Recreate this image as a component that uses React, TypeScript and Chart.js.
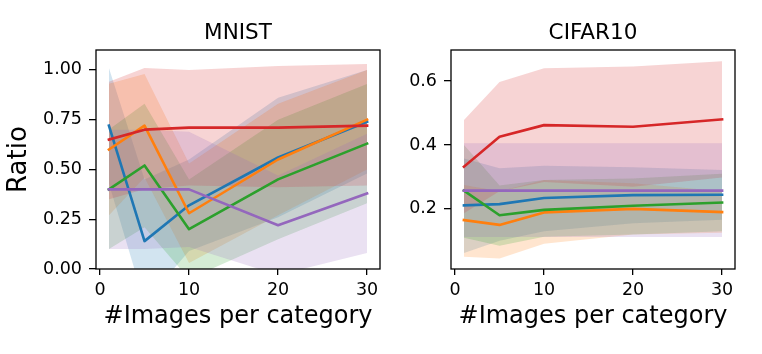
import React, { useEffect, useRef } from "react";
import { Chart, registerables } from "chart.js";

Chart.register(...registerables);

// ---------- data ----------
const imagesPerCategory = [1, 5, 10, 20, 30];
const xTickValues = [0, 10, 20, 30];
const mnistYTickValues = [0, 0.25, 0.5, 0.75, 1.0];
const cifarYTickValues = [0.2, 0.4, 0.6];

const seriesColors = ["#1f77b4", "#ff7f0e", "#2ca02c", "#d62728", "#9467bd"];
const seriesFills = [
  "rgba(31,119,180,0.2)",
  "rgba(255,127,14,0.2)",
  "rgba(44,160,44,0.2)",
  "rgba(214,39,40,0.2)",
  "rgba(148,103,189,0.2)",
];

// MNIST
const mnistBlue = [0.72, 0.14, 0.32, 0.56, 0.74];
const mnistBlueLow = [0.43, -0.17, 0.09, 0.26, 0.48];
const mnistBlueHigh = [1.01, 0.45, 0.55, 0.86, 1.0];
const mnistOrange = [0.6, 0.72, 0.28, 0.55, 0.75];
const mnistOrangeLow = [0.27, 0.46, 0.03, 0.27, 0.5];
const mnistOrangeHigh = [0.93, 0.98, 0.53, 0.83, 1.0];
const mnistGreen = [0.4, 0.52, 0.2, 0.45, 0.63];
const mnistGreenLow = [0.1, 0.21, -0.05, 0.15, 0.33];
const mnistGreenHigh = [0.7, 0.83, 0.45, 0.75, 0.93];
const mnistRed = [0.65, 0.7, 0.71, 0.71, 0.72];
const mnistRedLow = [0.35, 0.4, 0.42, 0.41, 0.42];
const mnistRedHigh = [0.94, 1.01, 1.0, 1.02, 1.03];
const mnistPurple = [0.4, 0.4, 0.4, 0.22, 0.38];
const mnistPurpleLow = [0.1, 0.1, 0.11, -0.03, 0.08];
const mnistPurpleHigh = [0.7, 0.7, 0.69, 0.47, 0.68];

// CIFAR10
const cifarBlue = [0.211, 0.215, 0.234, 0.243, 0.244];
const cifarBlueLow = [0.062, 0.1, 0.13, 0.155, 0.166];
const cifarBlueHigh = [0.358, 0.327, 0.335, 0.33, 0.322];
const cifarOrange = [0.165, 0.15, 0.189, 0.2, 0.19];
const cifarOrangeLow = [0.05, 0.045, 0.091, 0.12, 0.125];
const cifarOrangeHigh = [0.275, 0.255, 0.29, 0.28, 0.255];
const cifarGreen = [0.257, 0.18, 0.197, 0.21, 0.22];
const cifarGreenLow = [0.11, 0.085, 0.113, 0.12, 0.13];
const cifarGreenHigh = [0.4, 0.273, 0.29, 0.295, 0.31];
const cifarRed = [0.332, 0.426, 0.462, 0.457, 0.48];
const cifarRedLow = [0.186, 0.255, 0.284, 0.269, 0.298];
const cifarRedHigh = [0.478, 0.597, 0.64, 0.645, 0.662];
const cifarPurple = [0.257, 0.257, 0.257, 0.257, 0.257];
const cifarPurpleLow = [0.112, 0.112, 0.112, 0.112, 0.112];
const cifarPurpleHigh = [0.405, 0.405, 0.405, 0.405, 0.405];

const FONT = "'DejaVu Sans', sans-serif";

function pts(values: number[]) {
  return imagesPerCategory.map((x, i) => ({ x, y: values[i] }));
}

function buildDatasets(means: number[][], lows: number[][], highs: number[][]) {
  const ds: any[] = [];
  for (let i = 0; i < means.length; i++) {
    ds.push({
      data: pts(highs[i]),
      fill: 2 * i + 1,
      backgroundColor: seriesFills[i],
      borderColor: "rgba(0,0,0,0)",
      borderWidth: 0,
      pointRadius: 0,
      order: 100 - i,
    });
    ds.push({
      data: pts(lows[i]),
      fill: false,
      backgroundColor: "rgba(0,0,0,0)",
      borderColor: "rgba(0,0,0,0)",
      borderWidth: 0,
      pointRadius: 0,
      order: 100 - i,
    });
  }
  for (let i = 0; i < means.length; i++) {
    ds.push({
      data: pts(means[i]),
      fill: false,
      borderColor: seriesColors[i],
      backgroundColor: seriesColors[i],
      borderWidth: 2.6,
      borderCapStyle: "square",
      borderJoinStyle: "round",
      pointRadius: 0,
      order: 50 - i,
    });
  }
  return ds;
}

function framePlugin(title: string) {
  return {
    id: "frame",
    afterDatasetsDraw(chart: any) {
      const { ctx, chartArea: a } = chart;
      ctx.save();
      ctx.strokeStyle = "#000";
      ctx.lineWidth = 1.3;
      ctx.strokeRect(a.left, a.top, a.right - a.left, a.bottom - a.top);
      ctx.restore();
    },
    afterDraw(chart: any) {
      const { ctx, chartArea: a } = chart;
      ctx.save();
      ctx.fillStyle = "#000";
      ctx.font = `21.5px ${FONT}`;
      ctx.textAlign = "center";
      ctx.textBaseline = "alphabetic";
      ctx.fillText(title, (a.left + a.right) / 2, 39);
      ctx.restore();
    },
  };
}

interface PanelProps {
  title: string;
  width: number;
  yAxisWidth: number;
  padRight: number;
  yMin: number;
  yMax: number;
  yTicks: number[];
  yDigits: number;
  yLabel?: string;
  means: number[][];
  lows: number[][];
  highs: number[][];
}

function Panel(p: PanelProps) {
  const ref = useRef<HTMLCanvasElement>(null);
  useEffect(() => {
    if (!ref.current) return;
    const chart = new Chart(ref.current, {
      type: "line",
      data: { datasets: buildDatasets(p.means, p.lows, p.highs) },
      options: {
        responsive: false,
        animation: false,
        devicePixelRatio: 1,
        layout: { padding: { top: 50, right: p.padRight, bottom: 0, left: 0 } },
        plugins: {
          legend: { display: false },
          tooltip: { enabled: false },
          title: { display: false },
          filler: { drawTime: "beforeDatasetsDraw", propagate: false },
        } as any,
        elements: { line: { tension: 0 }, point: { radius: 0 } },
        scales: {
          x: {
            type: "linear",
            min: -0.45,
            max: 31.45,
            afterBuildTicks: (axis: any) => {
              axis.ticks = xTickValues.map((value) => ({ value }));
            },
            afterFit: (axis: any) => {
              axis.height = 85;
            },
            ticks: {
              color: "#000",
              font: { family: FONT, size: 17.5 },
              padding: 4.5,
              maxRotation: 0,
              autoSkip: false,
              callback: (v: any) => String(v),
            },
            grid: {
              drawOnChartArea: false,
              drawTicks: true,
              tickLength: 6,
              color: "#000",
              lineWidth: 1.3,
            },
            border: { display: false },
            title: {
              display: true,
              text: "#Images per category",
              color: "#000",
              font: { family: FONT, size: 24 },
              padding: { top: 0, bottom: 22.9 },
            },
          },
          y: {
            type: "linear",
            min: p.yMin,
            max: p.yMax,
            afterBuildTicks: (axis: any) => {
              axis.ticks = p.yTicks.map((value) => ({ value }));
            },
            afterFit: (axis: any) => {
              axis.width = p.yAxisWidth;
            },
            ticks: {
              color: "#000",
              font: { family: FONT, size: 17.5 },
              padding: 7,
              autoSkip: false,
              callback: (v: any) => Number(v).toFixed(p.yDigits),
            },
            grid: {
              drawOnChartArea: false,
              drawTicks: true,
              tickLength: 7,
              color: "#000",
              lineWidth: 1.3,
            },
            border: { display: false },
            title: {
              display: !!p.yLabel,
              text: p.yLabel || "",
              color: "#000",
              font: { family: FONT, size: 26 },
              padding: { top: 4, bottom: 0 },
            },
          },
        },
      } as any,
      plugins: [framePlugin(p.title)],
    });
    return () => chart.destroy();
  }, []);
  return (
    <canvas
      ref={ref}
      width={p.width}
      height={354}
      style={{ width: p.width, height: 354, display: "block" }}
    />
  );
}

export default function App() {
  useEffect(() => {
    document.body.style.margin = "0";
  }, []);
  return (
    <div
      style={{
        position: "fixed",
        left: 0,
        top: 0,
        width: 762,
        height: 354,
        background: "#fff",
        display: "flex",
      }}
    >
      <Panel
        title="MNIST"
        width={390}
        yAxisWidth={96}
        padRight={10}
        yMin={0}
        yMax={1.1}
        yTicks={mnistYTickValues}
        yDigits={2}
        yLabel="Ratio"
        means={[mnistBlue, mnistOrange, mnistGreen, mnistRed, mnistPurple]}
        lows={[mnistBlueLow, mnistOrangeLow, mnistGreenLow, mnistRedLow, mnistPurpleLow]}
        highs={[mnistBlueHigh, mnistOrangeHigh, mnistGreenHigh, mnistRedHigh, mnistPurpleHigh]}
      />
      <Panel
        title="CIFAR10"
        width={372}
        yAxisWidth={61}
        padRight={27}
        yMin={0.012}
        yMax={0.697}
        yTicks={cifarYTickValues}
        yDigits={1}
        means={[cifarBlue, cifarOrange, cifarGreen, cifarRed, cifarPurple]}
        lows={[cifarBlueLow, cifarOrangeLow, cifarGreenLow, cifarRedLow, cifarPurpleLow]}
        highs={[cifarBlueHigh, cifarOrangeHigh, cifarGreenHigh, cifarRedHigh, cifarPurpleHigh]}
      />
    </div>
  );
}
